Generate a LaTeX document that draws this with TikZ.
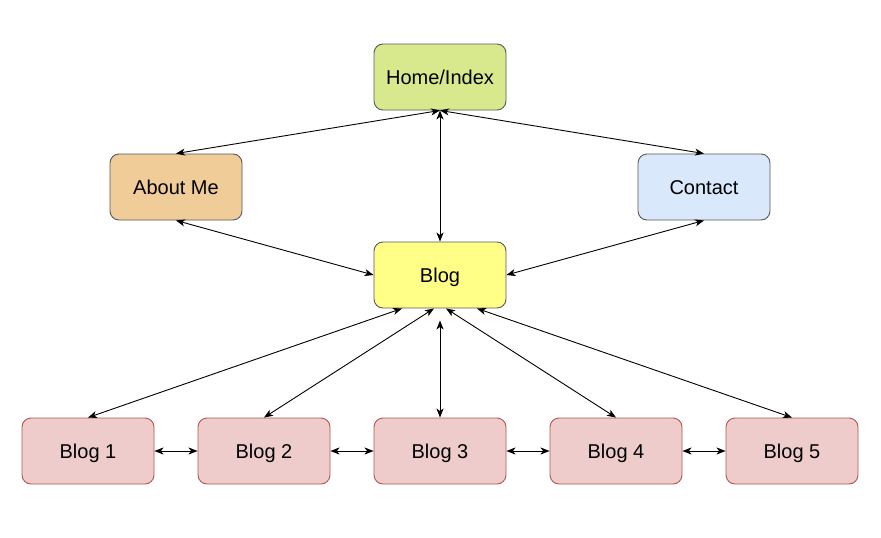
\documentclass[tikz,border=0pt]{standalone}
\usepackage{fontspec}
\setmainfont{Liberation Sans}
\usetikzlibrary{arrows.meta,positioning}
\definecolor{homefill}{RGB}{215,233,140}
\definecolor{aboutfill}{RGB}{240,204,153}
\definecolor{contactfill}{RGB}{218,232,252}
\definecolor{blogfill}{RGB}{255,255,136}
\definecolor{subfill}{RGB}{237,204,203}
\definecolor{subline}{RGB}{184,84,80}
\definecolor{boxline}{RGB}{90,90,90}
\tikzset{
  box/.style={draw=boxline, line width=0.9pt, rounded corners=9pt, minimum width=132pt, minimum height=66pt, inner sep=0pt, font=\fontsize{20}{23}\selectfont, text height=18.4pt, text depth=4pt, text=black},
  subbox/.style={box, draw=subline, fill=subfill},
  link/.style={{Stealth[length=9pt,width=7pt,inset=2.5pt]}-{Stealth[length=9pt,width=7pt,inset=2.5pt]}, line width=0.9pt, black}
}
\begin{document}
\begin{tikzpicture}[x=1pt,y=-1pt]
\useasboundingbox (0,0) rectangle (881,538);
\node[box, fill=homefill] (home) at (440,77) {Home/Index};
\node[box, fill=aboutfill] (about) at (176,187) {About Me};
\node[box, fill=contactfill] (contact) at (704,187) {Contact};
\node[box, fill=blogfill] (blog) at (440,275) {Blog};
\node[subbox] (b1) at (88,451) {Blog 1};
\node[subbox] (b2) at (264,451) {Blog 2};
\node[subbox] (b3) at (440,451) {Blog 3};
\node[subbox] (b4) at (616,451) {Blog 4};
\node[subbox] (b5) at (792,451) {Blog 5};
\draw[link] (home.south) -- (about.north);
\draw[link] (home.south) -- (contact.north);
\draw[link] (home.south) -- (blog.north);
\draw[link] (about.south) -- (blog.west);
\draw[link] (contact.south) -- (blog.east);
\draw[link] ([xshift=-38pt]blog.south) -- (b1.north);
\draw[link] ([xshift=-6pt]blog.south) -- (b2.north);
\draw[link] ([yshift=-12pt]blog.south) -- (b3.north);
\draw[link] ([xshift=6pt]blog.south) -- (b4.north);
\draw[link] ([xshift=37pt]blog.south) -- (b5.north);
\draw[link] (b1.east) -- (b2.west);
\draw[link] (b2.east) -- (b3.west);
\draw[link] (b3.east) -- (b4.west);
\draw[link] (b4.east) -- (b5.west);
\end{tikzpicture}
\end{document}
